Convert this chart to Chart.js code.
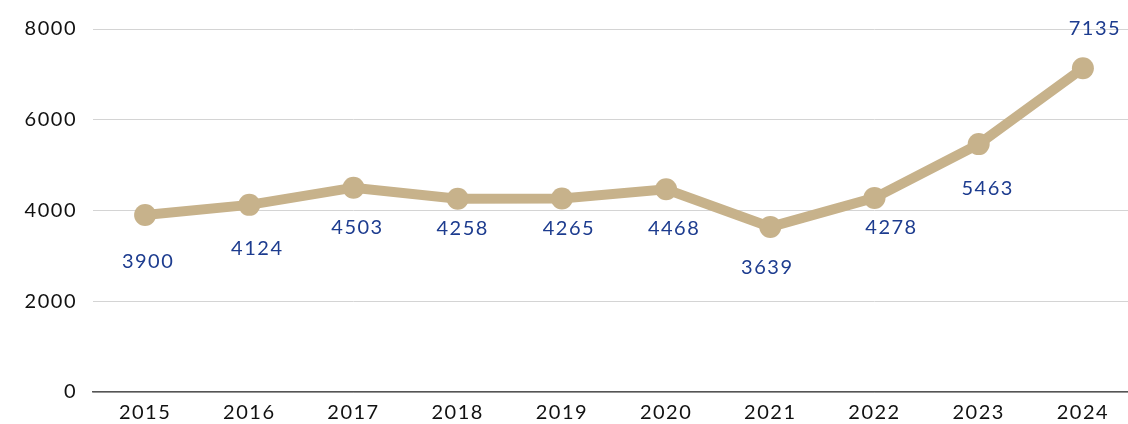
<!DOCTYPE html>
<html><head><meta charset="utf-8">
<script src="https://cdn.jsdelivr.net/npm/chart.js@4/dist/chart.umd.min.js"></script>
<style>html,body{margin:0;padding:0;background:#fff;overflow:hidden;width:1128px;height:424px}
#c{display:block}</style>
</head><body><canvas id="c" width="1146" height="424"></canvas>
<script>
const years = ['2015','2016','2017','2018','2019','2020','2021','2022','2023','2024'];
const values = [3900,4124,4503,4258,4265,4468,3639,4278,5463,7135];
const yTicks = [0,2000,4000,6000,8000];

const FONT = 'Lato, "DejaVu Sans", sans-serif';
const SPACING = '1.5px';
const labelDY = [47,44,40,30,30,39,41,30,44,-40];
const labelDX = [2,7,3,4,6,7,-4,16,8,11];

const spacingPlugin = {
  id:'spacing',
  beforeDraw(chart){ chart.ctx.letterSpacing = SPACING; }
};

const labelPlugin = {
  id:'valLabels',
  afterDatasetsDraw(chart){
    const ctx = chart.ctx;
    const meta = chart.getDatasetMeta(0);
    ctx.save();
    ctx.letterSpacing = SPACING;
    ctx.font = '20px ' + FONT;
    ctx.fillStyle = '#1d3c8f';
    ctx.textAlign = 'center';
    ctx.textBaseline = 'middle';
    meta.data.forEach((pt,i)=>{
      ctx.fillText(String(values[i]), pt.x + 1 + labelDX[i], pt.y + labelDY[i]);
    });
    ctx.restore();
  }
};

new Chart(document.getElementById('c'), {
  type:'line',
  data:{labels:years, datasets:[{data:values, borderColor:'#c7b28b', backgroundColor:'#c7b28b',
    borderWidth:10, pointRadius:11, pointHoverRadius:11, pointBackgroundColor:'#c7b28b', pointBorderWidth:0, tension:0}]},
  options:{
    responsive:false, animation:false,
    layout:{padding:{top:29,right:0,left:0,bottom:0}},
    plugins:{legend:{display:false}, tooltip:{enabled:false}},
    scales:{
      x:{offset:true,
        grid:{display:false, drawTicks:false},
        border:{display:true,color:'#555',width:1.5},
        ticks:{color:'#111',font:{family:FONT,size:20},padding:9},
        afterFit(s){s.height=32;}
      },
      y:{min:0,max:8000,
        afterBuildTicks(s){s.ticks = yTicks.map(v=>({value:v}));},
        grid:{color:'#d4d4d4',drawTicks:false,lineWidth:1},
        border:{display:false},
        ticks:{color:'#111',font:{family:FONT,size:20},padding:16,callback:v=>String(v)},
        afterFit(s){s.width=93;}
      }
    }
  },
  plugins:[spacingPlugin,labelPlugin]
});
</script></body></html>
